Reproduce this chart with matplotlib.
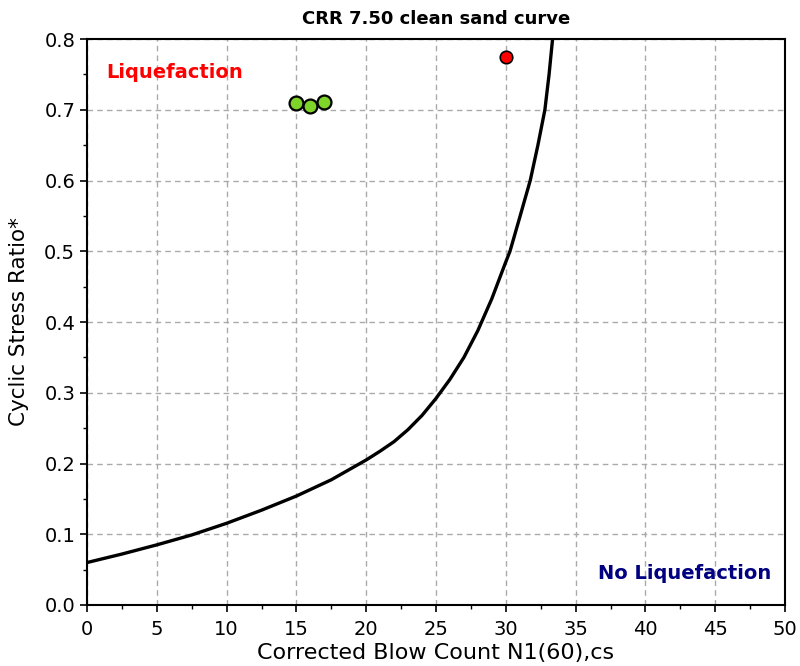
import matplotlib
matplotlib.use("Agg")
import matplotlib.pyplot as plt
import numpy as np
from matplotlib.ticker import MultipleLocator

# clean sand CRR curve (N1(60),cs vs CRR 7.5)
curve_n = [0, 2.5, 5, 7.5, 10, 12.5, 15, 17.5, 20, 21, 22, 23, 24, 25, 26,
           27, 28, 29, 30, 30.3, 31, 31.75, 32.3, 32.8, 33.1, 33.35]
curve_crr = [0.060, 0.072, 0.085, 0.099, 0.1155, 0.134, 0.154, 0.177, 0.205,
             0.2175, 0.231, 0.248, 0.268, 0.292, 0.319, 0.350, 0.388, 0.433,
             0.485, 0.500, 0.548, 0.600, 0.650, 0.700, 0.750, 0.800]

# field data points
green_n = [15, 16, 17]
green_csr = [0.709, 0.705, 0.711]
red_n = [30]
red_csr = [0.775]

fig = plt.figure(figsize=(8, 6.66), dpi=100)
ax = fig.add_axes([0.10875, 0.0916, 0.8725, 0.8498])

ax.plot(curve_n, curve_crr, color="black", lw=2.4, solid_capstyle="round",
        solid_joinstyle="round", zorder=3)
ax.plot(green_n, green_csr, "o", ms=10, mfc="#7fd42a", mec="black", mew=1.6, zorder=4)
ax.plot(red_n, red_csr, "o", ms=9, mfc="#ff0000", mec="black", mew=1.2, zorder=4)

ax.set_xlim(0, 50)
ax.set_ylim(0, 0.8)
ax.xaxis.set_major_locator(MultipleLocator(5))
ax.xaxis.set_minor_locator(MultipleLocator(2.5))
ax.yaxis.set_major_locator(MultipleLocator(0.1))
ax.yaxis.set_minor_locator(MultipleLocator(0.05))
ax.yaxis.set_major_formatter(plt.FormatStrFormatter("%.1f"))

ax.grid(True, which="major", color="#aaaaaa", ls=(0, (4, 3)), lw=1.0)
ax.set_axisbelow(True)
for s in ax.spines.values():
    s.set_linewidth(1.5)
ax.tick_params(which="major", direction="out", length=5, width=1.2, labelsize=14)
ax.tick_params(which="minor", direction="out", length=3, width=1.0)
ax.tick_params(axis="x", which="major", pad=6)

ax.set_title("CRR 7.50 clean sand curve", fontsize=13, fontweight="bold", pad=11)
ax.set_xlabel("Corrected Blow Count N1(60),cs", fontsize=16, labelpad=3)
ax.set_ylabel("Cyclic Stress Ratio*", fontsize=15.5, labelpad=11)

ax.text(1.4, 0.752, "Liquefaction", color="#ff0000", fontsize=14,
        fontweight="bold", va="center", ha="left")
ax.text(36.6, 0.044, "No Liquefaction", color="#000080", fontsize=14,
        fontweight="bold", va="center", ha="left")

fig.savefig("out.png", dpi=100)
